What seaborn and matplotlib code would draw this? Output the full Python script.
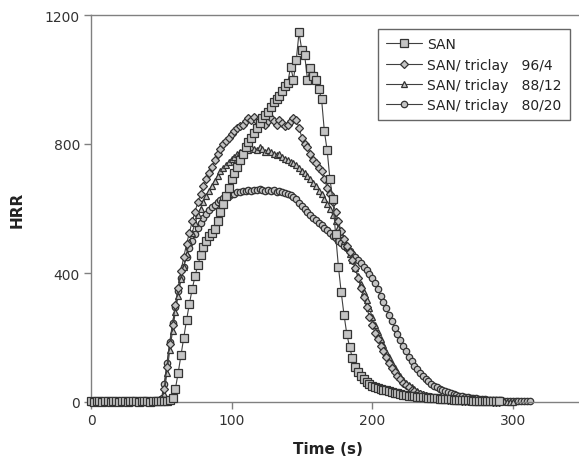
import numpy as np
import pandas as pd
import seaborn as sns
from matplotlib import pyplot as plt

# time axis (s), one reading every 2 s
time_s = np.arange(0, 313, 2)

# heat release rate
hrr_san = [2, 1, 3, 2, 1, 2, 3, 1, 2, 2, 1, 3, 2, 1, 2, 3, 2, 1, 2, 3, 2, 1, 2, 3, 2,
           2, 3, 4, 6, 12,
           40, 90, 145, 200, 255, 305, 350, 390, 425, 455, 480, 500, 515, 525, 535,
           560, 590, 615, 640, 665, 690, 710, 730, 750, 770, 790, 805, 820, 835, 850,
           865, 880, 890, 900, 915, 930, 940, 950, 965, 980, 990, 1040, 1000, 1060, 1146,
           1090, 1075, 1000, 1035, 1010, 1000, 970, 940, 840, 780, 690, 630, 520, 420, 340,
           270, 210, 170, 135, 110, 92, 80, 70, 62, 56,
           50, 46, 43, 40, 38, 36, 34, 31, 29, 27, 25, 23, 22, 20, 19, 18, 17, 16, 15, 14,
           13, 12, 11, 11, 10,
           9, 9, 8, 8, 7, 7, 6, 6, 5, 5, 5, 4, 4, 4, 3, 3, 3, 3, 2, 2, 2]

hrr_96_4 = [3, 1, 2, 4, 2, 1, 3, 2, 2, 1, 4, 2, 3, 1, 2, 2, 3, 1, 2, 4, 2, 3, 1, 2, 3,
            8, 40, 110, 180, 240, 300, 355, 405, 450, 490, 525, 560, 590, 620, 645, 670, 690, 710, 730, 750,
            770, 785, 800, 810, 820,
            830, 840, 850, 855, 860, 870, 880, 875, 885, 870, 865, 875, 860, 870, 880, 870, 860, 875, 865, 855,
            860, 870, 880, 875, 850,
            820, 800, 790, 770, 750, 740, 725, 715, 690, 665, 645, 620, 590, 560, 530, 505, 485, 465, 440, 415,
            385, 355, 325, 295, 265,
            240, 215, 195, 175, 158, 140, 122, 106, 92, 80, 70, 60, 52, 45, 38, 33, 28, 24, 21, 18,
            16, 14, 12, 11, 10,
            9, 8, 7, 6, 6, 5, 5, 4, 4, 4, 3, 3, 3, 2, 2, 2, 2, 2, 1, 1, 1]

hrr_88_12 = [1, 2, 2, 3, 1, 2, 1, 3, 2, 2, 3, 1, 2, 2, 1, 3, 2, 2, 1, 2, 3, 2, 1, 2, 2,
             4, 25, 90, 160, 220, 280, 330, 380, 420, 460, 495, 525, 555, 580, 600, 620, 640, 655, 670, 685,
             700, 715, 725, 735, 745,
             755, 760, 770, 775, 780, 785, 780, 790, 785, 780, 790, 785, 775, 780, 775, 770, 765, 770, 760, 755,
             750, 745, 740, 735, 725,
             715, 710, 700, 690, 680, 670, 655, 645, 630, 615, 600, 580, 560, 540, 520, 500, 480, 460, 440, 415,
             390, 365, 340, 315, 290,
             265, 240, 218, 196, 176, 156, 138, 122, 106, 92, 80, 69, 60, 52, 45, 39, 34, 29, 25, 22,
             19, 17, 15, 13, 12,
             11, 10, 9, 8, 7, 7, 6, 6, 5, 5, 5, 4, 4, 4, 3, 3, 3, 3, 2, 2, 2, 2, 2, 1, 1, 1]

hrr_80_20 = [2, 3, 1, 2, 2, 3, 2, 1, 3, 2, 2, 1, 2, 3, 2, 2, 1, 2, 3, 2, 1, 2, 2, 3, 4,
             8, 55, 120, 185, 245, 295, 345, 385, 420, 450, 478, 500, 520, 540, 555, 570, 582, 594, 604, 612,
             620, 626, 632, 636, 640,
             644, 646, 650, 652, 654, 655, 657, 655, 658, 656, 660, 657, 655, 658, 654, 656, 652, 655, 650, 648,
             645, 642, 636, 628, 618,
             608, 598, 590, 580, 572, 564, 556, 548, 540, 532, 524, 516, 508, 500, 492, 484, 476, 468, 460, 450,
             440, 430, 420, 410, 398,
             385, 368, 350, 330, 310, 290, 270, 250, 230, 211, 192, 174, 157, 141, 126, 113, 101, 90, 80, 72,
             64, 57, 51, 46, 41,
             37, 33, 30, 27, 24, 22, 20, 18, 16, 15, 13, 12, 11, 10, 9, 8, 7, 7, 6, 6,
             5, 5, 4, 4, 4, 3, 3, 3, 2, 2, 2, 2]

labels = ['SAN', 'SAN/ triclay   96/4', 'SAN/ triclay   88/12', 'SAN/ triclay   80/20']

sns.set_style('ticks')
plt.rcParams['font.family'] = ['DejaVu Sans']

fig = plt.figure(figsize=(5.79, 4.64), dpi=100)
ax = fig.add_axes([91 / 579, 61 / 464, 492 / 579, 387 / 464])

line_col = '#404040'
face_col = '#c4c4c4'

# drawing order: lowest curve first, SAN squares on top
series = [
    (hrr_80_20, labels[3], 'o', 4.6, 2),
    (hrr_88_12, labels[2], '^', 4.6, 3),
    (hrr_96_4, labels[1], 'D', 3.8, 4),
    (hrr_san, labels[0], 's', 5.4, 5),
]
for vals, lab, mk, ms, z in series:
    df = pd.DataFrame({'t': time_s[:len(vals)], 'hrr': vals})
    sns.lineplot(data=df, x='t', y='hrr', ax=ax, color=line_col, linewidth=0.8,
                 marker=mk, markersize=ms, markerfacecolor=face_col,
                 markeredgecolor='#333333', markeredgewidth=0.9,
                 label=lab, clip_on=False, zorder=z)

ax.set_xlim(0, 350)
ax.set_ylim(0, 1200)
ax.set_xticks([0, 100, 200, 300])
ax.set_yticks([0, 400, 800, 1200])

for side in ['left', 'bottom', 'top']:
    ax.spines[side].set_color('#808080')
    ax.spines[side].set_linewidth(1.0)
ax.spines['right'].set_visible(False)
ax.tick_params(axis='both', direction='out', length=5, width=1, color='#808080',
               labelsize=10, labelcolor='#333333', pad=3)

ax.set_xlabel('Time (s)', fontsize=11, fontweight='bold', color='#222222', va='top')
ax.set_ylabel('HRR', fontsize=11, fontweight='bold', color='#222222')
ax.xaxis.set_label_coords(0.482, -0.1)
ax.yaxis.set_label_coords(-0.134, 0.5)

handles, labs = ax.get_legend_handles_labels()
order = [labs.index(l) for l in labels]
leg = ax.legend([handles[i] for i in order], labels, loc='upper right',
                bbox_to_anchor=(570 / 579, 1 - 30 / 464), bbox_transform=fig.transFigure,
                borderaxespad=0, fontsize=10, handlelength=2.6, handletextpad=0.35,
                labelspacing=0.45, borderpad=0.6, fancybox=False, framealpha=1,
                edgecolor='#666666')
leg.get_frame().set_linewidth(1.0)
for t in leg.get_texts():
    t.set_color('#222222')

fig.savefig('out.png', dpi=100)
